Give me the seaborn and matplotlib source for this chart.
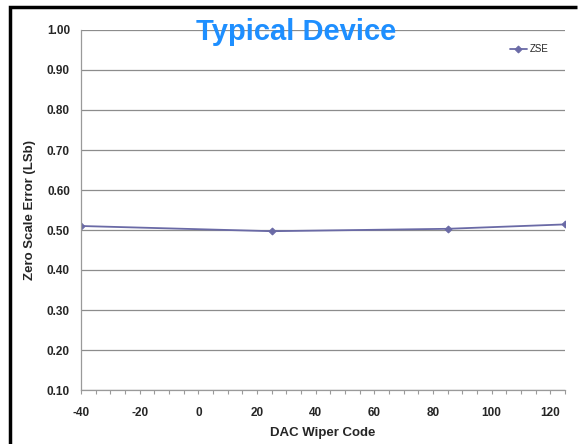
import matplotlib
matplotlib.use("Agg")
import matplotlib.pyplot as plt
from matplotlib.ticker import MultipleLocator
import pandas as pd
import seaborn as sns

# Data
wiper_code = [-40, 25, 85, 125]
zse_values = [0.510, 0.497, 0.503, 0.514]
x_ticks = [-40, -20, 0, 20, 40, 60, 80, 100, 120]
y_ticks = [0.10, 0.20, 0.30, 0.40, 0.50, 0.60, 0.70, 0.80, 0.90, 1.00]

df = pd.DataFrame({"DAC Wiper Code": wiper_code, "ZSE": zse_values})

sns.set_style("white")
plt.rcParams["font.family"] = ["Liberation Sans", "DejaVu Sans"]

fig = plt.figure(figsize=(5.81, 4.44), dpi=100)

# Full-figure overlay for the black frame on the left and top edges
frame_ax = fig.add_axes([0, 0, 1, 1])
frame_ax.set_xlim(0, 581)
frame_ax.set_ylim(444, 0)
frame_ax.axis("off")
frame_ax.plot([577, 10, 10], [7, 7, 460], color="black", linewidth=2.5,
              solid_joinstyle="miter", solid_capstyle="butt")

ax = fig.add_axes([81 / 581, 1 - 390 / 444, (565 - 81) / 581, (390 - 30) / 444])
ax.patch.set_alpha(0)

line_color = "#6a6aa6"
sns.lineplot(data=df, x="DAC Wiper Code", y="ZSE", ax=ax, color=line_color,
             marker="D", markersize=3.5, markeredgecolor=line_color,
             linewidth=1.3, label="ZSE")

ax.set_xlim(-40, 125)
ax.set_ylim(0.10, 1.00)
ax.set_xticks(x_ticks)
ax.set_yticks(y_ticks)
ax.set_xticklabels([str(v) for v in x_ticks], fontweight="bold", fontsize=8.5)
ax.set_yticklabels([f"{v:.2f}" for v in y_ticks], fontweight="bold", fontsize=8.5)
ax.xaxis.set_minor_locator(MultipleLocator(5))

ax.grid(axis="y", color="#8c8c8c", linewidth=0.9)
ax.grid(axis="x", visible=False)
for side in ["top", "right"]:
    ax.spines[side].set_visible(False)
for side in ["left", "bottom"]:
    ax.spines[side].set_color("#9a9a9a")
    ax.spines[side].set_linewidth(0.9)

ax.tick_params(axis="y", which="major", direction="out", length=5, color="#8c8c8c",
               width=0.9, pad=3)
ax.tick_params(axis="x", which="both", direction="out", length=3, color="#9a9a9a",
               width=0.8, pad=9, bottom=True)

ax.set_xlabel("DAC Wiper Code", fontweight="bold", fontsize=9.5, labelpad=6)
ax.set_ylabel("Zero Scale Error (LSb)", fontweight="bold", fontsize=9.5, labelpad=8)

ax.text(0.445, 0.995, "Typical Device", transform=ax.transAxes, ha="center", va="center",
        fontsize=21, fontweight="bold", color="#1e8fff", family=["Liberation Sans", "DejaVu Sans"])

leg = ax.legend(loc="upper right", bbox_to_anchor=(0.985, 0.985), frameon=False,
                fontsize=7, handlelength=1.8, handletextpad=0.3)

fig.savefig("out.png", dpi=100)
